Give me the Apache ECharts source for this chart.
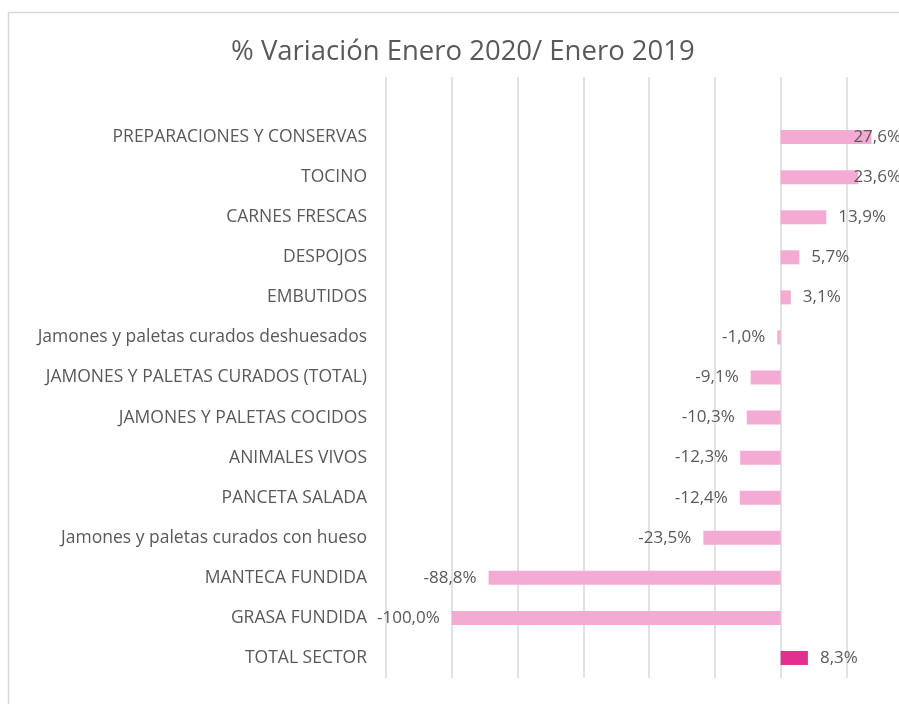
<!DOCTYPE html>
<html>
<head>
<meta charset="utf-8">
<script src="https://cdn.jsdelivr.net/npm/echarts@6/dist/echarts.min.js"></script>
<style>
  html, body { margin: 0; padding: 0; background: #fff; }
  #chart { width: 899px; height: 704px; }
</style>
</head>
<body>
<div id="chart"></div>
<script>
// categorias, de arriba a abajo (la primera vacia deja el hueco superior)
const categorias = [
  '',
  'PREPARACIONES Y CONSERVAS',
  'TOCINO',
  'CARNES FRESCAS',
  'DESPOJOS',
  'EMBUTIDOS',
  'Jamones y paletas curados deshuesados',
  'JAMONES Y PALETAS CURADOS (TOTAL)',
  'JAMONES Y PALETAS COCIDOS',
  'ANIMALES VIVOS',
  'PANCETA SALADA',
  'Jamones y paletas curados con hueso',
  'MANTECA FUNDIDA',
  'GRASA FUNDIDA',
  'TOTAL SECTOR'
]
const variacion = [null, 27.6, 23.6, 13.9, 5.7, 3.1, -1.0, -9.1, -10.3, -12.3, -12.4, -23.5, -88.8, -100.0, 8.3]

const rosa = '#F4ABD3'
const rosaFuerte = '#E3308F'
const fuente = 'Open Sans'

const fmt = v => v.toFixed(1).replace('.', ',') + '%'

// ancho de texto, para empujar hacia dentro las etiquetas que se salen
const ctx = document.createElement('canvas').getContext('2d')
ctx.font = '17px "' + fuente + '"'

const chart = echarts.init(document.getElementById('chart'))

const option = {
  animation: false,
  title: {
    text: '% Variación Enero 2020/ Enero 2019',
    left: 226,
    top: 33,
    textStyle: {
      fontFamily: fuente,
      fontSize: 27.5,
      fontWeight: 'normal',
      color: '#595959'
    }
  },
  graphic: [
    {
      type: 'rect',
      shape: { x: 8.5, y: 12.5, width: 1000, height: 1000 },
      style: { fill: 'none', stroke: '#D9D9D9', lineWidth: 1.5 },
      silent: true
    }
  ],
  grid: {
    left: 386,
    top: 77,
    right: 0,
    height: 601
  },
  xAxis: {
    type: 'value',
    min: -120,
    max: 36,
    interval: 20,
    axisLabel: { show: false },
    axisLine: { show: false },
    axisTick: { show: false },
    splitLine: { showMaxLine: false, lineStyle: { color: '#D9D9D9', width: 1.5 } }
  },
  yAxis: {
    type: 'category',
    inverse: true,
    data: categorias,
    axisLine: { show: false, onZero: false },
    axisTick: { show: false },
    axisLabel: {
      margin: 19,
      fontFamily: fuente,
      fontSize: 17.5,
      color: '#595959'
    }
  },
  series: [
    {
      type: 'bar',
      barWidth: 14,
      data: [],
      label: {
        show: true,
        distance: 12,
        formatter: p => fmt(p.value),
        fontFamily: fuente,
        fontSize: 17,
        color: '#595959'
      }
    }
  ]
}
chart.setOption(option)

const datos = variacion.map((v, i) => {
  if (v === null) return null
  const item = {
    value: v,
    itemStyle: { color: categorias[i] === 'TOTAL SECTOR' ? rosaFuerte : rosa },
    label: { position: v < 0 ? 'left' : 'right' }
  }
  if (v > 0) {
    const fin = chart.convertToPixel({ gridIndex: 0 }, [v, i])[0] + 12 + ctx.measureText(fmt(v)).width
    const sobra = fin - 901
    if (sobra > 0) item.label.offset = [-sobra, 0]
  }
  return item
})
chart.setOption({ series: [{ data: datos }] })
</script>
</body>
</html>
